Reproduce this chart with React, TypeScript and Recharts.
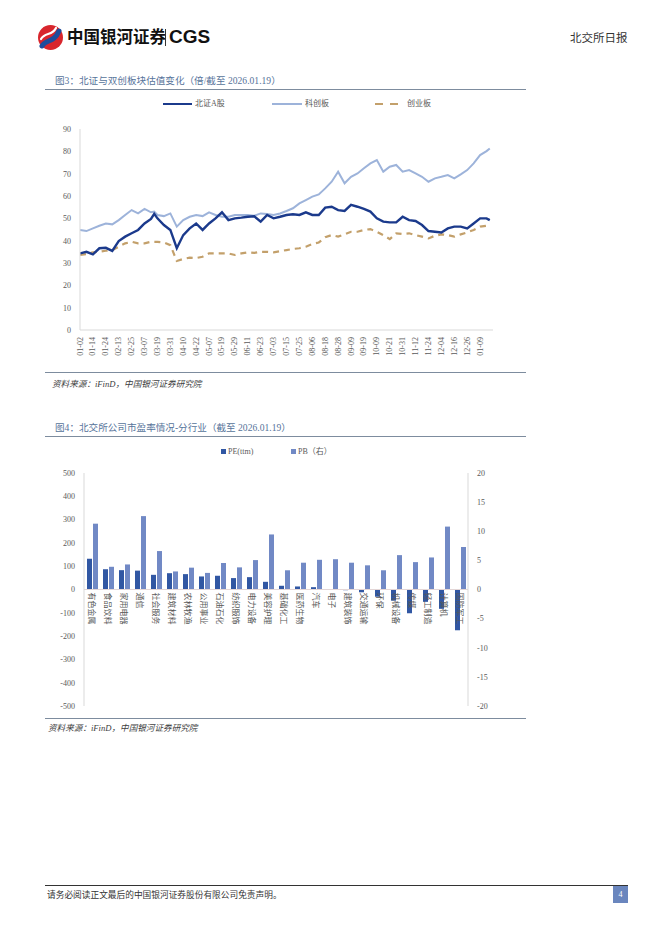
import React from 'react';
import { LineChart, Line, XAxis, YAxis, BarChart, Bar, ReferenceLine, LabelList } from 'recharts';

// ---------- Chart 1 data (北证与双创板块估值) ----------
const DATE_LABELS = ['01-02','01-14','01-24','02-13','02-25','03-07','03-19','03-31','04-10','04-22','05-07','05-19','05-29','06-11','06-23','07-03','07-15','07-25','08-06','08-18','08-28','09-09','09-19','10-09','10-21','10-31','11-12','11-24','12-04','12-16','12-26','01-09'];
const DAY_INDEX = [0,4,8,12,16,20,24,28,32,36,40,44,46,48,52,56,60,64,68,72,76,80,84,88,92,96,100,104,108,112,116,120,124,128,132,136,140,144,148,152,156,160,164,168,172,176,180,184,188,192,196,200,204,208,212,216,220,224,228,232,236,240,244,248,252,254];
const BZ_A = [34.3,35.0,33.9,36.6,36.8,35.4,39.8,41.8,43.3,44.8,47.7,49.7,52.0,50.0,47.0,44.8,36.6,42.5,45.5,47.7,44.8,47.7,50.0,52.7,49.2,50.0,50.3,50.7,50.9,48.5,51.5,50.0,50.7,51.5,51.8,51.5,52.7,51.5,51.5,54.8,55.2,53.7,53.3,56.0,55.2,54.2,53.0,50.0,48.5,48.2,48.2,50.7,49.2,48.8,47.0,44.3,44.0,43.7,45.5,46.3,46.3,45.5,47.7,50.0,50.0,49.2];
const KCB = [44.8,44.3,45.5,46.7,47.7,47.3,49.2,51.5,53.7,52.2,54.2,52.7,53.0,51.5,51.0,52.2,46.3,49.2,50.7,51.5,51.0,52.7,51.5,50.7,50.7,51.5,51.5,51.5,51.2,52.2,51.9,51.5,52.2,53.3,54.5,56.7,58.2,59.7,60.7,63.4,66.4,70.9,65.7,68.6,70.1,72.4,74.6,76.1,70.9,73.1,73.9,70.9,71.6,70.1,68.6,66.4,67.9,68.6,69.4,67.9,69.7,71.6,74.6,78.3,80.1,81.3];
const CYB = [33.6,34.0,34.8,35.0,35.5,35.8,37.3,38.8,39.5,38.8,38.8,39.5,39.5,39.5,39.2,38.0,30.9,31.8,32.4,32.2,32.8,34.3,34.3,34.3,34.3,33.6,34.3,34.8,34.5,35.0,35.0,34.8,35.3,35.8,36.3,36.6,37.3,38.5,39.2,41.5,42.5,41.8,42.8,44.0,44.0,44.8,45.2,44.0,42.5,40.7,43.3,43.0,43.3,42.5,41.8,41.0,42.2,42.8,42.5,41.8,42.8,43.7,44.8,46.3,46.7,46.7];
const Y1_TICKS = [0,10,20,30,40,50,60,70,80,90];

// ---------- Chart 2 data (分行业 PE / PB) ----------
const INDUSTRIES = ['有色金属','食品饮料','家用电器','通信','社会服务','建筑材料','农林牧渔','公用事业','石油石化','纺织服饰','电力设备','美容护理','基础化工','医药生物','汽车','电子','建筑装饰','交通运输','环保','机械设备','传媒','轻工制造','计算机','国防军工'];
const PE_TTM = [132,87,83,81,63,70,66,56,59,49,53,33,16,13,10,1,-3,-12,-31,-48,-102,-53,-83,-175];
const PB_R = [11.3,3.9,4.3,12.6,6.6,3.1,3.75,2.85,4.55,3.8,5.05,9.45,3.3,4.6,5.1,5.2,4.6,4.15,3.3,5.9,4.7,5.5,10.8,7.3];
const Y2_LEFT = [-500,-400,-300,-200,-100,0,100,200,300,400,500];
const Y2_RIGHT = [-20,-15,-10,-5,0,5,10,15,20];

const lineData = DAY_INDEX.map((d, i) => ({ d, bz: BZ_A[i], kc: KCB[i], cy: CYB[i] }));
const barData = INDUSTRIES.map((name, i) => ({ name, pe: PE_TTM[i], pb: PB_R[i] }));

const SERIF = "'Liberation Serif', 'Noto Sans CJK SC', serif";
const CJK = "'Noto Sans CJK SC', 'Liberation Serif', sans-serif";
const C_BZ = '#1B3A8C';
const C_KC = '#9DB3DA';
const C_CY = '#C3A06B';
const C_PE = '#3157A3';
const C_PB = '#7189C5';
const AX = '#595959';

// chart 2 geometry
const B_H = 260, B_TOP = 13, B_XH = 14;
const ZERO_Y = B_TOP + (B_H - B_TOP - B_XH) / 2;

const DateTick = (props: any) => {
  const { x, y, payload } = props;
  return (
    <text x={x} y={y} transform={`rotate(-90 ${x} ${y})`} textAnchor="end" dominantBaseline="central"
      fontSize={8} fill={AX} fontFamily={SERIF}>
      {DATE_LABELS[Math.round(payload.value / 8)]}
    </text>
  );
};

const CatLabel = (props: any) => {
  const { x, width, value } = props;
  const cx = Number(x) + Number(width) + 1;
  const y = ZERO_Y + 3;
  return (
    <text x={cx} y={y} transform={`rotate(90 ${cx} ${y})`} textAnchor="start" dominantBaseline="central"
      fontSize={8} fill={AX} fontFamily={CJK}>
      {value}
    </text>
  );
};

const abs = (l: number, t: number, extra: any = {}) => ({ position: 'absolute' as const, left: l, top: t, ...extra });

export default function App() {
  return (
    <div style={{ position: 'absolute', left: 0, top: 0, width: 662, height: 936, background: '#fff', fontFamily: SERIF, overflow: 'hidden' }}>
      {/* header */}
      <svg style={abs(37, 24)} width={27} height={27} viewBox="0 0 27 27">
        <circle cx={13.5} cy={13.5} r={12.5} fill="#D8262D" />
        <path d="M5 22 C 9 15, 17 19, 22 7" stroke="#1E4C9C" strokeWidth={5} fill="none" strokeLinecap="round" />
        <path d="M4 15 C 8 8, 15 12, 19 4" stroke="#fff" strokeWidth={2.2} fill="none" strokeLinecap="round" />
      </svg>
      <div style={abs(67, 25, { fontFamily: CJK, fontWeight: 700, fontSize: 16.5, lineHeight: '23px', color: '#111' })}>中国银河证券</div>
      <div style={abs(165, 29, { width: 1.3, height: 17, background: '#333' })} />
      <div style={abs(169, 25, { fontFamily: "'Liberation Sans', Arial, sans-serif", fontWeight: 700, fontSize: 19, lineHeight: '24px', color: '#111' })}>CGS</div>
      <div style={abs(570, 29, { fontFamily: CJK, fontSize: 11.5, lineHeight: '16px', color: '#333' })}>北交所日报</div>

      {/* chart 1 title */}
      <div style={abs(55, 74, { fontSize: 9.6, lineHeight: '13px', color: '#56739A', whiteSpace: 'nowrap' })}>图3：北证与双创板块估值变化（倍/截至 2026.01.19）</div>
      <div style={abs(45, 89, { width: 481, height: 1, background: '#7D8C9E' })} />

      {/* legend 1 */}
      <div style={abs(163, 102.5, { width: 29, height: 2.5, background: C_BZ })} />
      <div style={abs(195, 98, { fontSize: 8, lineHeight: '11px', color: AX, whiteSpace: 'nowrap' })}>北证A股</div>
      <div style={abs(272, 102.5, { width: 30, height: 2, background: C_KC })} />
      <div style={abs(305, 98, { fontSize: 8, lineHeight: '11px', color: AX, whiteSpace: 'nowrap' })}>科创板</div>
      <div style={abs(375, 102.5, { width: 8, height: 2.5, background: C_CY })} />
      <div style={abs(390, 102.5, { width: 8, height: 2.5, background: C_CY })} />
      <div style={abs(407, 98, { fontSize: 8, lineHeight: '11px', color: AX, whiteSpace: 'nowrap' })}>创业板</div>

      <div style={abs(30, 110)}>
        <LineChart width={480} height={260} data={lineData} margin={{ top: 19, right: 17, left: 0, bottom: 0 }}>
          <XAxis dataKey="d" type="number" domain={[0, 256]} ticks={DATE_LABELS.map((_, i) => i * 8)}
            height={40} tickLine={false} tickSize={0} tickMargin={7} axisLine={{ stroke: '#D9D9D9' }}
            tick={<DateTick />} interval={0} allowDataOverflow />
          <YAxis type="number" domain={[0, 90]} ticks={Y1_TICKS} width={50} tickLine={false} tickSize={0} tickMargin={9}
            axisLine={{ stroke: '#D9D9D9' }} tick={{ fontSize: 8, fill: AX, fontFamily: SERIF }} interval={0} />
          <Line dataKey="cy" type="linear" stroke={C_CY} strokeWidth={2.2} strokeDasharray="6 5" dot={false} isAnimationActive={false} />
          <Line dataKey="kc" type="linear" stroke={C_KC} strokeWidth={2} dot={false} isAnimationActive={false} />
          <Line dataKey="bz" type="linear" stroke={C_BZ} strokeWidth={2.4} dot={false} isAnimationActive={false} />
        </LineChart>
      </div>

      <div style={abs(45, 372, { width: 481, height: 1, background: '#7D8C9E' })} />
      <div style={abs(52, 378, { fontSize: 8.6, lineHeight: '12px', color: '#404040', fontStyle: 'italic', whiteSpace: 'nowrap' })}>资料来源：iFinD，中国银河证券研究院</div>

      {/* chart 2 title */}
      <div style={abs(55, 421, { fontSize: 9.6, lineHeight: '13px', color: '#56739A', whiteSpace: 'nowrap' })}>图4：北交所公司市盈率情况-分行业（截至 2026.01.19）</div>
      <div style={abs(45, 436, { width: 481, height: 1, background: '#7D8C9E' })} />

      {/* legend 2 */}
      <div style={abs(221, 449, { width: 5, height: 5, background: C_PE })} />
      <div style={abs(228, 446, { fontSize: 8, lineHeight: '11px', color: AX, whiteSpace: 'nowrap' })}>PE(ttm)</div>
      <div style={abs(291, 449, { width: 5, height: 5, background: C_PB })} />
      <div style={abs(298, 446, { fontSize: 8, lineHeight: '11px', color: AX, whiteSpace: 'nowrap' })}>PB（右）</div>

      <div style={abs(30, 460)}>
        <BarChart width={480} height={B_H} data={barData} margin={{ top: B_TOP, right: 0, left: 0, bottom: 0 }} barGap={1} barCategoryGap="20%">
          <XAxis dataKey="name" height={B_XH} tickLine={false} axisLine={false} tick={false} interval={0} />
          <YAxis yAxisId="left" domain={[-500, 500]} ticks={Y2_LEFT} width={54} tickLine={false} tickSize={0} tickMargin={9}
            axisLine={{ stroke: '#D9D9D9' }} tick={{ fontSize: 8, fill: AX, fontFamily: SERIF }} interval={0} />
          <YAxis yAxisId="right" orientation="right" domain={[-20, 20]} ticks={Y2_RIGHT} width={42} tickLine={false} tickSize={0} tickMargin={9}
            axisLine={{ stroke: '#D9D9D9' }} tick={{ fontSize: 8, fill: AX, fontFamily: SERIF }} interval={0} />
          <ReferenceLine yAxisId="left" y={0} stroke="#E3D6D6" />
          <Bar yAxisId="left" dataKey="pe" fill={C_PE} barSize={5} isAnimationActive={false} />
          <Bar yAxisId="right" dataKey="pb" fill={C_PB} barSize={5} isAnimationActive={false}>
            <LabelList dataKey="name" content={<CatLabelWrap />} />
          </Bar>
        </BarChart>
      </div>

      <div style={abs(45, 718, { width: 481, height: 1, background: '#7D8C9E' })} />
      <div style={abs(48, 722, { fontSize: 8.6, lineHeight: '12px', color: '#404040', fontStyle: 'italic', whiteSpace: 'nowrap' })}>资料来源：iFinD，中国银河证券研究院</div>

      {/* footer */}
      <div style={abs(45, 885, { width: 583, height: 1, background: '#333' })} />
      <div style={abs(47, 889, { fontFamily: CJK, fontSize: 8.7, lineHeight: '12px', color: '#333', whiteSpace: 'nowrap' })}>请务必阅读正文最后的中国银河证券股份有限公司免责声明。</div>
      <div style={abs(613, 886, { width: 15, height: 17, background: '#6A86BE', color: '#fff', fontSize: 8, lineHeight: '17px', textAlign: 'center' })}>4</div>
    </div>
  );
}

// PB bar label: placed at the category centre (left edge of the PB bar) on the zero line
function CatLabelWrap(props: any) {
  const { x, value } = props;
  const cx = Number(x) - 0.5;
  const y = ZERO_Y + 3;
  return (
    <text x={cx} y={y} transform={`rotate(90 ${cx} ${y})`} textAnchor="start" dominantBaseline="central"
      fontSize={8} fill={AX} fontFamily={CJK}>
      {value}
    </text>
  );
}
